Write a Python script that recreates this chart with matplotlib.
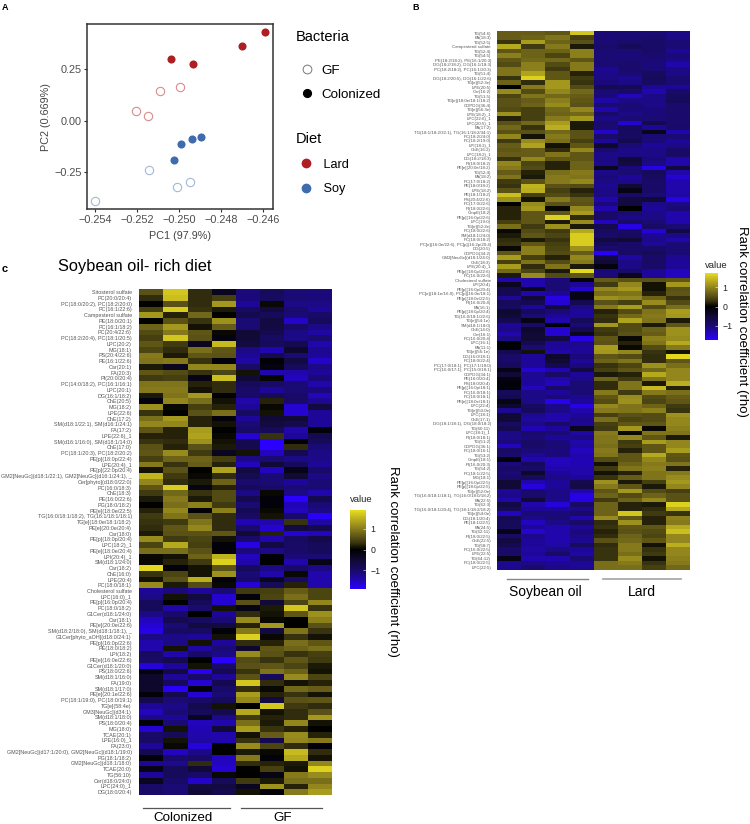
import numpy as np
import matplotlib
matplotlib.use('Agg')
import matplotlib.pyplot as plt
from matplotlib.colors import LinearSegmentedColormap, Normalize
from matplotlib.cm import ScalarMappable
from matplotlib.lines import Line2D

plt.rcParams['font.family'] = ['Liberation Sans', 'DejaVu Sans']
plt.rcParams['axes.unicode_minus'] = True

# panel A
pc1_lard_col = [-0.24592, -0.24703, -0.2504, -0.24935]
pc2_lard_col = [0.429, 0.36, 0.30, 0.276]
pc1_lard_gf = [-0.24997, -0.25092, -0.25206, -0.25151]
pc2_lard_gf = [0.165, 0.145, 0.045, 0.024]
pc1_soy_col = [-0.24895, -0.2494, -0.24994, -0.25027]
pc2_soy_col = [-0.079, -0.09, -0.113, -0.192]
pc1_soy_gf = [-0.25146, -0.24951, -0.2501, -0.254]
pc2_soy_gf = [-0.239, -0.297, -0.321, -0.39]

# panel B
lipids_b = [
    'TG(54:6)', 'FA(18:3)', 'TG(52:5)', 'Campesterol sulfate', 'TG(52:4)', 'TG(54:5)',
    'PE(18:2/18:2), PE(16:1/20:3)', 'DG(18:2/18:2), DG(16:1/18:3)', 'PC(18:2/18:2), PC(16:1/20:3)',
    'TG(51:4)', 'DG(18:2/20:5), DG(16:1/22:6)', 'TG[e](52:3e)', 'LPE(20:5)', 'Car(16:2)', 'TG(51:5)',
    'TG[e](18:0e/18:1/18:2)', 'CDPDG(36:4)', 'TG[e](56:3e)', 'LPE(18:2)_1', 'LPC(22:6)_1', 'LPC(20:5)_1',
    'FA(17:2)', 'TG(18:1/18:2/32:1), TG(16:1/18:2/34:1)', 'PC(18:2/24:0)', 'PC(18:2/19:0)', 'LPI(18:2)_1',
    'ChE(16:2)', 'LPC(18:2)_1', 'DG(18:2/18:3)', 'PI(18:0/18:2)', 'PE[e](20:0e/18:2)', 'TG(52:4)',
    'FA(18:2)', 'PC(17:0/18:2)', 'PE(18:0/18:2)', 'LPE(18:2)', 'PE(18:1/18:2)', 'PS(20:4/22:6)',
    'PC(17:0/22:6)', 'PI(18:0/22:6)', 'CmpE(18:2)', 'PE[p](16:0p/22:6)', 'LPC(19:0)', 'TG[e](52:2e)',
    'PC(18:0/22:6)', 'SM(d18:1/24:0)', 'PC(18:0/18:2)', 'PC[e](16:0e/22:6), PC[p](16:2p/20:4)', 'DG(20:5)',
    'CDPDG(34:2)', 'GM2[NeuGc](d18:1/24:0)', 'ChE(18:3)', 'LPE(20:4)_1', 'PE[p](18:0p/22:6)', 'PC(16:0/22:6)',
    'Cholesterol sulfate', 'LPI(20:4)', 'PE[p](16:0p/20:4)', 'PC[e](18:1e/16:0), PC[p](16:0e/18:1)',
    'PE[p](18:0e/22:5)', 'PI(16:0/20:4)', 'FA(16:1)', 'PE[p](18:0p/20:4)', 'TG(16:0/18:1/22:6)', 'TG[e](54:1e)',
    'SM(d18:1/18:0)', 'ChE(14:0)', 'Car(16:1)', 'PC(16:0/20:4)', 'LPC(16:1)', 'FA(11:1)', 'TG[e](56:1e)',
    'DG(16:0/18:1)', 'PC(18:0/22:4)', 'PC(17:0/18:1), PC(17:1/18:0)', 'PC(16:0/17:1), PC(15:0/18:1)',
    'CDPDG(34:1)', 'PE(16:0/20:4)', 'PS(18:0/20:4)', 'PE[p](16:0p/18:1)', 'PC(16:0/18:1)', 'PC(18:0/18:1)',
    'PE[e](18:0e/18:1)', 'LPC(22:4)', 'TG[e](50:0e)', 'LPC(18:1)', 'ChE(17:1)', 'DG(18:1/18:1), DG(18:0/18:2)',
    'TG(60:11)', 'LPC(18:1)_1', 'PI(18:0/18:1)', 'TG(51:2)', 'CDPDG(36:1)', 'PC(18:0/16:1)', 'TG(53:2)',
    'CmpE(18:1)', 'PI(16:0/20:3)', 'TG(54:2)', 'PC(18:1/22:5)', 'MG(18:1)', 'PE[p](16:0p/22:5)',
    'PE[p](18:0p/22:5)', 'TG[e](52:0e)', 'TG(16:0/18:1/18:1), TG(16:0/18:0/18:2)', 'FA(22:5)', 'TG(62:3)',
    'TG(16:0/18:1/20:4), TG(18:1/18:2/18:2)', 'TG[e](54:0e)', 'DG(18:1/20:4)', 'PE(18:1/22:5)', 'FA(24:5)',
    'TG(62:11)', 'PI(18:0/22:5)', 'ChE(22:5)', 'TG(58:7)', 'PC(16:0/22:5)', 'LPE(22:5)', 'TG(64:12)',
    'PC(18:0/22:5)', 'LPC(22:5)',
]

rho_b = [
    [.65, .65, .6, 1.55, -1.0, -1.0, -1.0, -1.1],
    [.65, .7, .85, .4, -1.0, -1.0, -.95, -1.1],
    [.3, 1.2, .7, .55, -1.0, -.95, -.9, -1.0],
    [1.3, .35, .9, .15, -.95, -.8, -.9, -1.0],
    [.6, .7, .7, .95, -1.0, -1.0, -.9, -1.2],
    [.95, .7, .45, .95, -1.0, -1.05, -.95, -1.0],
    [.6, .75, .75, .6, -1.0, -1.0, -1.0, -1.1],
    [.5, .95, .5, .9, -1.0, -.95, -1.05, -1.3],
    [.85, .95, .35, .9, -1.2, -.95, -1.0, -1.1],
    [.85, 1.25, .6, .2, -1.1, -1.0, -.85, -1.1],
    [.3, 1.65, .6, .35, -1.1, -1.15, -.8, -1.0],
    [.7, .25, 1.15, .3, -1.05, -1.1, -.85, -1.0],
    [0, .9, 1.15, .5, -.75, -.75, -1.2, -1.2],
    [1.05, .5, 1.0, .75, -1.0, -.9, -1.3, -.9],
    [.45, .85, .75, .65, -1.05, -1.4, -1.1, -.85],
    [.55, .65, .95, .6, -1.25, -1.1, -1.1, -.8],
    [.55, .7, 1.05, .55, -1.0, -1.0, -1.1, -.95],
    [.5, .4, .75, 1.0, -1.3, -1.05, -1.05, -.95],
    [1.1, .4, .7, .75, -.9, -1.1, -1.05, -.95],
    [.2, .4, .9, 1.15, -1.1, -1.0, -1.0, -.95],
    [.55, .75, 1.2, .15, -.95, -1.5, -.7, -.95],
    [.75, .3, 1.35, .15, -1.0, -.8, -1.2, -.9],
    [.55, .55, .75, .55, -1.45, -.85, -.25, -1.3],
    [1.0, .1, .9, .55, -.95, -.85, -1.0, -1.0],
    [.35, 1.05, .8, .4, -1.2, -.7, -1.05, -1.2],
    [.65, 1.25, .1, .6, -.4, -1.0, -1.2, -1.1],
    [.6, .65, .25, 1.0, -.95, -1.1, -1.1, -.9],
    [.65, .65, .85, .6, -1.1, -1.1, -1.1, -.9],
    [.3, 1.0, .6, .6, -1.1, -.5, -1.05, -1.3],
    [1.0, .45, .2, .7, -1.1, -.6, -1.1, -1.3],
    [.9, .5, .2, .7, -.3, -1.05, -1.6, -.55],
    [.65, .2, .8, .9, -1.1, -1.0, -.8, -1.3],
    [.85, .15, .9, .85, -1.05, -1.2, -.85, -1.5],
    [.35, .55, .9, 1.0, -1.1, -1.1, -.9, -1.3],
    [.3, 1.4, .55, .5, -1.15, -.5, -.9, -1.3],
    [.55, 1.35, .4, .2, -1.1, -.2, -.9, -1.3],
    [1.5, .4, .5, .3, -1.1, -.9, -1.0, -1.25],
    [1.1, .1, .9, .6, -1.3, -.6, -.5, -1.6],
    [0, 1.05, .55, .55, -1.05, -.6, -1.1, -1.1],
    [.2, 1.15, .05, 1.0, -1.3, 0, -1.2, -1.0],
    [.2, .6, .6, 1.2, -.9, -1.0, -1.1, -1.3],
    [.2, .6, 1.65, .25, -.9, -1.1, -1.1, -1.3],
    [.4, .6, .15, 1.05, -1.4, -.9, -1.0, -1.3],
    [.8, .35, 1.1, .15, -.7, -1.6, -.9, -1.0],
    [.05, .5, .35, 1.3, -.85, -.9, -1.5, -.6],
    [.15, .6, .45, 1.6, -.9, -.85, -1.2, -1.1],
    [.25, .15, .3, 1.6, -.6, -.5, -1.1, -1.3],
    [.3, .6, .4, 1.6, -.8, -.9, -1.2, -1.0],
    [.05, .95, .45, 1.1, -.95, -.9, -.9, -1.0],
    [.6, .95, .5, .65, -1.7, -.9, -.8, -1.0],
    [1.2, .4, .2, 1.0, -.6, -1.25, -.9, -1.15],
    [.4, .85, .5, .9, -.5, -1.1, -.9, -1.2],
    [1.2, .25, .85, .15, -.15, -1.1, -.9, -1.2],
    [.75, .45, .15, 1.7, -1.05, -.9, -1.2, -1.4],
    [.15, 1.05, .5, .6, -1.0, -.3, -1.2, -1.4],
    [-1.3, -1.3, -1.05, -.1, .65, .55, .55, .6],
    [-.3, -1.3, -1.0, -1.2, .35, 1.0, .1, 1.15],
    [-.7, -.3, -1.0, -1.5, 1.0, 1.15, .1, .55],
    [-.7, -1.3, -1.2, -.2, .8, .85, .2, .6],
    [-1.2, -.5, -1.6, -.2, 1.1, 1.0, .7, .3],
    [-.8, -.7, -1.5, -.7, .55, .4, 1.05, .5],
    [-.85, -1.2, -.6, -1.1, .9, 1.2, .5, .8],
    [-.45, -.8, -1.0, -1.2, .2, .5, .85, 1.2],
    [-.5, -1.0, -1.2, -1.2, .3, .75, .9, 1.15],
    [-.7, -.2, -1.3, -.8, .25, 1.25, .85, .15],
    [-1.2, -.9, -.05, -1.0, 1.15, .5, .15, .6],
    [-1.1, -.4, -1.5, -.7, .35, .5, .7, 1.1],
    [-1.3, -.5, -1.5, -.3, .3, .55, .65, 1.1],
    [-1.1, -.5, -.6, -1.6, .6, .05, .95, 1.05],
    [-.05, -.7, -1.2, -1.1, .55, .2, .85, 1.3],
    [-.05, -1.0, -1.2, -1.2, 1.2, .05, .5, .9],
    [-.7, .1, -1.3, -1.2, 1.15, 1.0, .3, .1],
    [-.9, -1.2, -.4, -1.05, .6, .5, .25, 1.7],
    [-.9, -1.2, -.5, -1.2, .7, .85, .25, .6],
    [-.8, -1.2, -.7, -1.05, .3, .45, 1.1, .8],
    [-.2, -1.5, -1.35, -.6, .4, .6, .75, 1.0],
    [-.5, -1.15, -.9, -1.2, .15, .2, 1.3, 1.0],
    [-.15, -1.2, -1.3, -1.1, .7, .35, .85, 1.0],
    [-.1, -1.2, -1.4, -1.0, .25, .85, .15, 1.35],
    [-.1, -1.4, -.9, -1.0, .25, .85, 1.45, .2],
    [-.8, -1.1, -1.2, -1.0, .9, .35, .9, .8],
    [-.7, -1.1, -1.05, -1.15, .6, 1.05, .5, .65],
    [-.2, -1.1, -1.65, -1.2, .5, 1.1, .45, .6],
    [-.4, -.85, -1.1, -1.6, 1.0, .85, .7, .35],
    [-1.15, -.8, -1.1, -1.3, .9, .85, .95, .3],
    [-.5, -1.15, -1.3, -1.2, .4, .55, .5, 1.1],
    [-.5, -1.25, -1.3, -1.1, .8, .45, .5, 1.0],
    [-.85, -1.1, -.9, -1.2, .4, .6, .6, 1.0],
    [-.7, -1.35, -1.2, -.3, .35, 1.15, .05, .95],
    [-1.1, -.95, -1.0, -1.25, .9, .05, .85, .85],
    [-1.1, -1.0, -1.2, -1.1, .85, 1.0, .6, .15],
    [-1.05, -.9, -1.05, -1.3, .85, .35, 1.2, 1.0],
    [-1.4, -.9, -1.0, -1.25, .8, .4, .6, 1.0],
    [-.9, -1.0, -1.05, -1.4, .9, .2, .6, 1.2],
    [-.95, -1.2, -1.05, -1.3, .85, .6, 1.3, .6],
    [-.1, -1.3, -1.4, -1.35, .5, .6, 1.0, .55],
    [-1.05, -.8, -1.4, -1.35, .1, .7, .9, .85],
    [-.9, -.9, -1.3, -1.3, .35, .85, .95, .2],
    [-1, -.4, -1.2, -1.3, .1, .2, .85, .9],
    [-.9, -.8, -1.1, -1.2, .3, .65, .85, 1.05],
    [-.5, -1.3, -1.2, -.7, 1.1, .15, .4, 1.15],
    [-.5, -1.55, -1.2, -.65, .9, .6, .15, 1.0],
    [-1.2, -.95, -1.1, -1.3, .6, 1.15, .5, .4],
    [-1.1, -.95, -1.1, -1.6, .7, .5, .7, .55],
    [-1.3, -.5, -1.1, -1.6, .35, .7, 1.0, .55],
    [-.6, -1.3, -1.55, -.9, .7, .2, .15, 1.65],
    [-.8, -1.2, -1.2, -1.1, .7, .2, .25, 1.3],
    [-1.4, -1.0, -1.05, -.9, .7, 1.55, .35, .3],
    [-.7, -1.1, -1.0, -1.3, 1.05, .6, .2, .95],
    [-.8, -1.4, -1.1, -.9, .25, 1.1, .2, .9],
    [-.8, -1.2, -1.3, -1.2, .3, .6, .6, 1.3],
    [-.2, -1.5, -1.3, -1.05, .2, .55, .5, 1.5],
    [-.9, -1.1, -1.3, -1.1, .25, .7, .45, 1.0],
    [-.6, -1.2, -1.3, -1.15, .55, .75, .6, 1.0],
    [-.7, -1.2, -1.25, -.85, .25, .9, .1, 1.35],
    [-.9, -1.25, -1.1, -1.2, .3, .9, .3, 1.0],
    [-.9, -1.2, -.9, -1.25, .3, .8, .35, 1.0],
    [-.2, -1.3, -1.3, -1.0, .3, 1.05, .1, .95],
    [-1.15, -1.1, -1.2, -1.2, .8, .9, .3, .9],
    [-1.15, -.95, -1.1, -1.15, .8, .8, .4, .75],
]

# panel C
lipids_c = [
    'Sitosterol sulfate', 'PC(20:0/20:4)', 'PC(18:0/20:2), PC(18:2/20:0)', 'PC(16:1/22:6)',
    'Campesterol sulfate', 'PE(18:0/20:1)', 'PC(16:1/18:2)', 'PC(20:4/22:6)', 'PC(18:2/20:4), PC(18:1/20:5)',
    'LPC(20:2)', 'MG(18:1)', 'PS(20:4/22:6)', 'PE(16:1/22:6)', 'Car(20:1)', 'FA(20:3)', 'PI(20:0/20:4)',
    'PC(14:0/18:2), PC(16:1/16:1)', 'LPC(20:1)', 'DG(16:1/18:2)', 'ChE(20:5)', 'MG(18:2)', 'LPE(22:6)',
    'ChE(17:2)', 'SM(d18:1/22:1), SM(d16:1/24:1)', 'FA(17:2)', 'LPE(22:6)_1', 'SM(d16:1/16:0), SM(d18:1/14:0)',
    'ChE(17:0)', 'PC(18:1/20:3), PC(18:2/20:2)', 'PE[p](18:0p/22:4)', 'LPE(20:4)_1', 'PE[p](22:0p/20:4)',
    'GM2[NeuGc](d18:1/22:1), GM2[NeuGc](d16:1/24:1), _', 'Cer[phyto](d18:0/22:0)', 'PC(16:0/18:3)', 'ChE(18:3)',
    'PE(16:0/22:6)', 'PG(18:0/18:2)', 'PE[e](18:0e/22:5)', 'TG(16:0/18:1/18:2), TG(16:1/18:1/18:1)',
    'TG[e](18:0e/18:1/18:2)', 'PE[e](20:0e/20:4)', 'Car(18:0)', 'PE[p](18:0p/20:4)', 'LPC(18:2)_1',
    'PE[e](18:0e/20:4)', 'LPI(20:4)_1', 'SM(d18:1/24:0)', 'Car(18:2)', 'ChE(16:0)', 'LPE(20:4)', 'PC(18:0/18:1)',
    'Cholesterol sulfate', 'LPC(16:0)_1', 'PE[p](16:0p/20:4)', 'PC(18:0/18:2)', 'G1Cer(d18:1/24:0)', 'Car(18:1)',
    'PE[e](20:0e/22:6)', 'SM(d18:2/18:0), SM(d18:1/18:1), _', 'G1Cer[phyto_aOH](d18:0/24:1)', 'PE[p](16:0p/22:6)',
    'PE(18:0/18:2)', 'LPI(18:2)', 'PE[e](16:0e/22:6)', 'G1Cer(d18:1/20:0)', 'PS(18:0/22:6)', 'SM(d18:1/16:0)',
    'FA(19:0)', 'SM(d18:1/17:0)', 'PE[e](20:1e/22:6)', 'PC(18:1/19:0), PC(18:0/19:1)', 'TG[e](58:4e)',
    'GM3[NeuGc](d34:1)', 'SM(d18:1/18:0)', 'PS(18:0/20:4)', 'MG(18:0)', 'TCAE(20:1)', 'LPE(16:0)_1', 'FA(23:0)',
    'GM2[NeuGc](d17:1/20:0), GM2[NeuGc](d18:1/19:0)', 'PG(18:1/18:2)', 'GM2[NeuGc](d18:1/18:0)', 'TCAE(20:0)',
    'TG(56:10)', 'Cer(d18:0/24:0)', 'LPC(24:0)_1', 'DG(18:0/20:4)',
]

rho_c = [
    [.55, 1.55, .25, -.3, -1.05, -.8, -1.0, -1.05],
    [.25, 1.5, .25, .4, -1.05, -.85, -1, -1.05],
    [0, .55, .25, 1.15, -1.2, .05, -1.1, -1.1],
    [.4, 1.6, .3, .15, -.85, -.6, -.95, -1.2],
    [1.15, .2, .75, 0, -.7, -.8, -1.0, -.9],
    [0, .55, .3, 1.1, -1.0, -.6, -1.45, -.8],
    [.7, 1.15, .1, .65, -1, -.6, -.9, -1.1],
    [.5, .9, .6, .05, -.5, -.7, -1.1, -1.25],
    [.4, 1.55, .55, -.15, -.5, -.85, -1.1, -1],
    [.6, .35, -.3, 1.45, -.6, -.8, -.7, -1.3],
    [.45, .25, .8, .6, -1.1, -1.35, -.4, -1.15],
    [.9, .15, .6, .55, -1.2, -.7, -1, -1.2],
    [.85, .9, .3, -.1, -1.25, -.05, -.6, -1.45],
    [.15, -.3, 1.0, 1.0, -.9, -.15, -.8, -1.1],
    [.6, .5, .3, .45, .1, -1.3, -1.3, -1.2],
    [.35, .4, -.2, 1.5, -.5, .03, -1.4, -1.05],
    [.85, .85, .2, .25, -.8, -.9, -1.0, -1.3],
    [.9, .9, .1, .25, -.9, -1.2, -1.0, -1.05],
    [.15, .85, 1.15, -.1, -.9, -.8, -.9, -1.4],
    [-.15, 1.0, .8, .1, -1.3, .2, -.9, -1.15],
    [1.1, .05, .4, .2, -1.2, .05, -1.5, -.6],
    [.3, 0, .55, .8, -.85, .1, -1.5, -1.2],
    [.8, 1.15, .2, -.1, -1.2, -.5, -.5, -1.2],
    [1.0, 1.0, .2, .1, -1.0, -.6, -.7, -1.2],
    [.6, .2, 1.2, 0, -.9, -.8, -1.3, -.1],
    [.2, .2, 1.25, .05, -1.5, .3, -1.2, -.7],
    [.3, .25, 1.1, .1, -.7, -1.75, -.05, -.8],
    [.55, .2, .55, .15, -.7, -1.75, .25, -1.0],
    [.6, 1.05, .35, -.3, .1, -1.4, -.7, -1.1],
    [.4, .7, .7, .4, -1.1, -1.0, -1.1, -1.1],
    [.9, .3, .65, .2, -1.4, -.5, -.8, -1.2],
    [.1, .55, 0, 1.25, -.6, -1.4, -.2, -.9],
    [1.4, .35, .05, .25, -.75, -1.0, -.5, -1.1],
    [1.0, .25, .15, .7, -.95, -1.0, -1.2, -1],
    [.6, 1.6, -.2, .2, -.8, -.9, -1.0, -1.0],
    [.35, .75, .3, .5, -1.1, .05, -1.1, -1.3],
    [.15, .9, .15, .5, -.7, -.1, -1.8, -.7],
    [0, .8, .95, .35, -1, -.1, -1.35, -1],
    [.2, 1.0, -.05, .95, -.75, .05, -1.4, -1.1],
    [.35, .85, .55, .25, -.9, .1, -.9, -1.7],
    [.3, .35, .85, .25, -1.35, -1.3, .3, -1.25],
    [.25, .6, 1.0, .25, -.95, -1.5, -.6, -.7],
    [.15, .55, .55, .6, -.5, .2, -1.5, -1.4],
    [1.05, .35, .45, .1, -.9, -1.3, -.85, -.65],
    [.45, 1.3, .4, -.1, -1.6, -.6, -.9, -.8],
    [.8, .8, .55, -.1, -1.05, -1.1, -.9, -.8],
    [.05, .1, .7, 1.4, -1.4, -.05, -1.05, -1.0],
    [.05, .2, .35, 1.65, -1.3, 0, -1.3, -.2],
    [1.7, -.1, .1, .55, -.8, -1.1, -.9, -1.1],
    [.3, .45, .1, 1.1, -1.0, -1.3, .05, -1.3],
    [.1, .55, 1.35, -.1, -.9, -.3, -.9, -1.3],
    [1.05, .15, .5, .05, -1.5, -.8, .2, -1.3],
    [-1.2, -1.05, -1.2, -1.0, .35, .4, .65, .45],
    [-1.1, .1, -.6, -1.5, -.1, .45, .8, .45],
    [-.8, 0, -.8, -1.5, .55, -.5, .45, 1.0],
    [-.8, -1.3, -.95, .1, -.2, .15, 1.55, .3],
    [-1.1, -.9, 0, -1.2, .25, .1, .6, 1.1],
    [-1.4, -.7, -.85, -1.0, 1.05, .05, 0, .95],
    [-1.5, -1.0, -.6, -.6, .2, 1.15, 0, .55],
    [-1.6, -.85, -.85, -.1, .9, -.6, .85, .3],
    [-1.1, -1.1, -1.2, .1, 1.65, .05, .3, .1],
    [-1.3, -1.1, .1, -1.2, .25, .2, .8, .6],
    [-1.3, .1, -1.25, -1.0, -.4, .6, .7, .8],
    [-.85, -1.3, -.9, -1.1, 1.05, .55, .3, .4],
    [-.9, -.7, 0, -1.8, .5, .3, .6, .35],
    [-1.55, -1.2, .1, -.9, .55, .6, .45, .15],
    [-.15, -.6, -1.65, -.7, .3, .85, .7, .1],
    [-.4, -1.2, -.9, -1.2, .55, -.8, 1.05, .45],
    [-.4, -.8, -1.5, -.7, 1.55, .25, .1, .2],
    [-.4, -1.7, -.1, -.9, .25, .05, .75, .65],
    [-.1, -.7, -1.5, -1.0, 1.2, .2, .3, .1],
    [-.7, -1.0, -.9, -.8, 1.0, -.6, .55, .6],
    [-1.2, -1.1, -.7, .1, 0, 1.55, .35, .25],
    [-1.4, -1.0, -.8, -.7, 1.3, .1, .25, .55],
    [-1.1, -1.2, -.3, -1.1, .35, .2, .25, 1.15],
    [-.05, -1.0, -1.4, -1.3, .8, .15, 1.0, .1],
    [-1.5, .1, -1.35, -.5, 1.2, .3, .2, 0],
    [-.9, -.8, -1.3, -1.3, .1, .65, 1.05, .2],
    [-.9, .1, -1.25, -1.3, .3, -.7, 1.0, .9],
    [-1.2, .05, -1.55, 0, 1.05, .45, .25, -.1],
    [-.7, -1.4, -1.1, 0, .15, .05, 1.45, .25],
    [-.1, -.95, -.9, -1.4, .9, -.1, 1.3, .1],
    [-1.2, -1.15, .25, -1.4, .25, .2, .15, 1.0],
    [-.2, -.8, -.5, -1.5, 0, .4, .1, 1.65],
    [-1.2, -.8, -.9, .05, 0, -.2, .9, 1.05],
    [-.3, -.9, -1.45, -.8, .35, .15, .8, .8],
    [-.9, -1.0, -.6, -.6, -.3, 1.1, .2, 1.0],
    [-.9, -1.0, -.5, -.7, .1, -.1, .9, 1.2],
]

W, H = 750, 824
RED = '#ae1f24'
BLUE = '#3f6cad'
rho_cmap = LinearSegmentedColormap.from_list('rho', [
    (0, '#2a00ff'), (0.214, '#1a0a72'), (0.357, '#110a36'), (0.5, '#000000'),
    (0.586, '#39340f'), (0.757, '#85791c'), (1, '#e8dc20'),
])


def px_axes(x0, y0, x1, y1):
    return fig.add_axes([x0 / W, 1 - y1 / H, (x1 - x0) / W, (y1 - y0) / H])


def px_text(x, y, s, **kw):
    kw.setdefault('ha', 'center')
    kw.setdefault('va', 'center')
    fig.text(x / W, 1 - y / H, s, **kw)


def px_line(x0, x1, y, color, lw):
    fig.add_artist(Line2D([x0 / W, x1 / W], [1 - y / H] * 2, color=color, lw=lw))


def heatmap(box, labels, rows, fontsize, pad):
    ax = px_axes(*box)
    m = np.array(rows)
    ax.pcolormesh(m, cmap=rho_cmap, vmin=-1.75, vmax=1.75)
    ax.set_ylim(len(labels), 0)
    ax.set_xticks([])
    ax.set_yticks(np.arange(len(labels)) + 0.5)
    ax.set_yticklabels(labels, fontsize=fontsize, color='#555555')
    ax.tick_params(axis='y', length=0, pad=pad)
    for s in ax.spines.values():
        s.set_visible(False)
    return ax


def colorbar(box, lim):
    cax = px_axes(*box)
    cb = fig.colorbar(ScalarMappable(Normalize(-lim, lim), rho_cmap), cax=cax)
    cb.set_ticks([-1, 0, 1], labels=['\u22121', '0', '1'])
    cb.ax.tick_params(labelsize=6.3, length=2.5, width=0.4, direction='in', color='white',
                      labelcolor='#222222', pad=3)
    cb.outline.set_visible(False)


fig = plt.figure(figsize=(W / 100, H / 100), dpi=100)

# A: PCA scatter
ax = px_axes(87.3, 24.3, 273.3, 209.3)
ax.scatter(pc1_lard_col, pc2_lard_col, s=34, color=RED, linewidths=0)
ax.scatter(pc1_soy_col, pc2_soy_col, s=34, color=BLUE, linewidths=0)
ax.scatter(pc1_lard_gf, pc2_lard_gf, s=36, facecolors='white', edgecolors='#d98c8c', linewidths=0.8)
ax.scatter(pc1_soy_gf, pc2_soy_gf, s=36, facecolors='white', edgecolors='#a3b8da', linewidths=0.8)
ax.set_xlim(-0.25438, -0.24552)
ax.set_ylim(-0.429, 0.466)
ax.set_xticks([-0.254, -0.252, -0.25, -0.248, -0.246])
ax.set_xticklabels(['\u22120.254', '\u22120.252', '\u22120.250', '\u22120.248', '\u22120.246'])
ax.set_yticks([-0.25, 0, 0.25])
ax.set_yticklabels(['\u22120.25', '0.00', '0.25'])
ax.tick_params(labelsize=7.8, length=2.5, width=0.8, color='#333333', labelcolor='#4d4d4d', pad=1.5)
ax.set_xlabel('PC1 (97.9%)', fontsize=7.8, color='#444444', labelpad=4.5)
ax.set_ylabel('PC2 (0.669%)', fontsize=7.8, color='#444444', labelpad=2.5)
for s in ax.spines.values():
    s.set_color('#333333')
    s.set_linewidth(1.1)

bacteria_handles = [
    Line2D([], [], ls='', marker='o', ms=6.3, mfc='white', mec='#777777', mew=0.7, label='GF'),
    Line2D([], [], ls='', marker='o', ms=5.6, color='black', label='Colonized'),
]
diet_handles = [
    Line2D([], [], ls='', marker='o', ms=6, color=RED, label=' Lard'),
    Line2D([], [], ls='', marker='o', ms=6, color=BLUE, label=' Soy'),
]
leg1 = fig.legend(handles=bacteria_handles, title='Bacteria', loc='upper left',
                  bbox_to_anchor=(296 / W, 1 - 30 / H), frameon=False, fontsize=9.6,
                  title_fontsize=10.5, alignment='left', labelspacing=0.85, handlelength=1.6,
                  handletextpad=0.3, borderpad=0, borderaxespad=0)
leg2 = fig.legend(handles=diet_handles, title='Diet', loc='upper left',
                  bbox_to_anchor=(296 / W, 1 - 132 / H), frameon=False, fontsize=9.2,
                  title_fontsize=10.5, alignment='left', labelspacing=1.0, handlelength=1.6,
                  handletextpad=0.3, borderpad=0, borderaxespad=0)
leg1._legend_box.sep = 15
leg2._legend_box.sep = 9

# B: lard vs soybean oil heatmap
heatmap((497.3, 31, 690, 569.7), lipids_b, rho_b, 3.2, 4.6)
colorbar((705, 273, 718, 340), 1.75)
px_text(705, 266, 'value', ha='left', fontsize=6.8, color='#222222')
px_text(742, 321, 'Rank correlation coefficient (rho)', rotation=270, fontsize=9.5)
px_line(507, 588, 578.7, '#888888', 1.0)
px_line(603, 681, 578.7, '#a3a3a3', 1.2)
px_text(545, 592, 'Soybean oil', fontsize=10)
px_text(642, 592, 'Lard', fontsize=10)

# C: colonized vs GF heatmap
px_text(58, 267, 'Soybean oil- rich diet', ha='left', fontsize=11.8)
heatmap((139.3, 289.3, 332.3, 795), lipids_c, rho_c, 3.9, 5.4)
colorbar((350, 510, 366, 589), 1.9)
px_text(350, 500, 'value', ha='left', fontsize=6.8, color='#222222')
px_text(393, 561, 'Rank correlation coefficient (rho)', rotation=270, fontsize=9.5)
px_line(143, 230, 808, '#555555', 0.9)
px_line(241, 322, 808, '#555555', 0.9)
px_text(183, 824, 'Colonized', fontsize=9.6, va='bottom')
px_text(283, 824, 'GF', fontsize=9.6, va='bottom')

px_text(5, 8, 'A', fontsize=6.5, fontweight='bold')
px_text(416, 8, 'B', fontsize=6.5, fontweight='bold')
px_text(5, 269, 'c', fontsize=8, fontweight='bold')

fig.savefig('out.png', dpi=100)
